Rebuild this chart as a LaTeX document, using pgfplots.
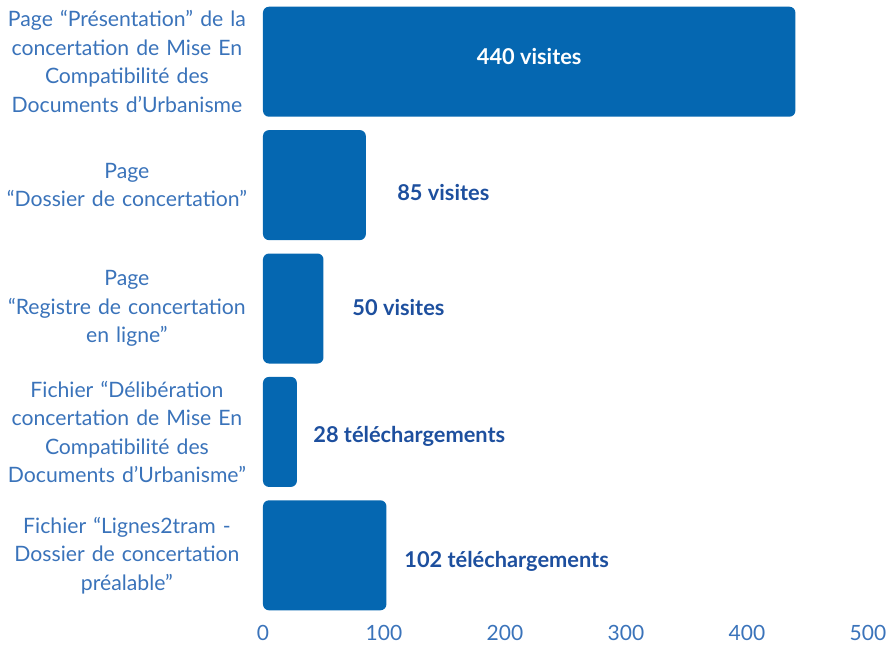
\documentclass[border=0pt]{standalone}
\usepackage{pgfplots}
\pgfplotsset{compat=1.18}
\usepackage{fontspec}
\setmainfont{Lato}
\definecolor{barblue}{HTML}{0567B1}
\definecolor{labblue}{HTML}{3A73BA}
\definecolor{valblue}{HTML}{1D4F9E}
\begin{document}
\begin{tikzpicture}
\useasboundingbox (-131.5pt,-14.5pt) rectangle (312.5pt,308.5pt);
\begin{axis}[
  at={(0,0)}, anchor=south west,
  scale only axis,
  width=302.5pt, height=308.5pt,
  xbar, bar width=55pt,
  xmin=0, xmax=500,
  ymin=-0.5, ymax=4.5,
  y dir=reverse,
  xtick={0,100,200,300,400,500},
  ytick={0,1,2,3,4},
  yticklabels={
    {Page “Présentation” de la\\concertation de Mise En\\Compatibilité des\\Documents d’Urbanisme},
    {Page\\“Dossier de concertation”},
    {Page\\“Registre de concertation\\en ligne”},
    {Fichier “Délibération\\concertation de Mise En\\Compatibilité des\\Documents d’Urbanisme”},
    {Fichier “Lignes2tram -\\Dossier de concertation\\préalable”}},
  yticklabel style={text width=124pt, align=center, font=\fontsize{10.6}{14.25}\selectfont, text=labblue, xshift=-2.5pt},
  xticklabel style={font=\fontsize{10.5}{13}\selectfont, text=labblue, yshift=-0.5pt},
  /pgf/number format/assume math mode=true,
  axis line style={draw=none},
  major tick length=0pt,
  clip=false,
]
\addplot[fill=barblue, draw=none, rounded corners=3pt] coordinates {(440,0) (85,1) (50,2) (28,3) (102,4)};
\node[font=\bfseries\fontsize{10.9}{12}\selectfont, text=white] at (axis cs:220,-0.04) {440 visites};
\node[font=\bfseries\fontsize{10.9}{12}\selectfont, text=valblue, anchor=west, inner sep=0pt] at (axis cs:110.7,1.06) {85 visites};
\node[font=\bfseries\fontsize{10.9}{12}\selectfont, text=valblue, anchor=west, inner sep=0pt] at (axis cs:73.6,1.99) {50 visites};
\node[font=\bfseries\fontsize{10.9}{12}\selectfont, text=valblue, anchor=west, inner sep=0pt] at (axis cs:41.3,3.04) {28 téléchargements};
\node[font=\bfseries\fontsize{10.9}{12}\selectfont, text=valblue, anchor=west, inner sep=0pt] at (axis cs:116.5,4.05) {102 téléchargements};
\end{axis}
\end{tikzpicture}
\end{document}
